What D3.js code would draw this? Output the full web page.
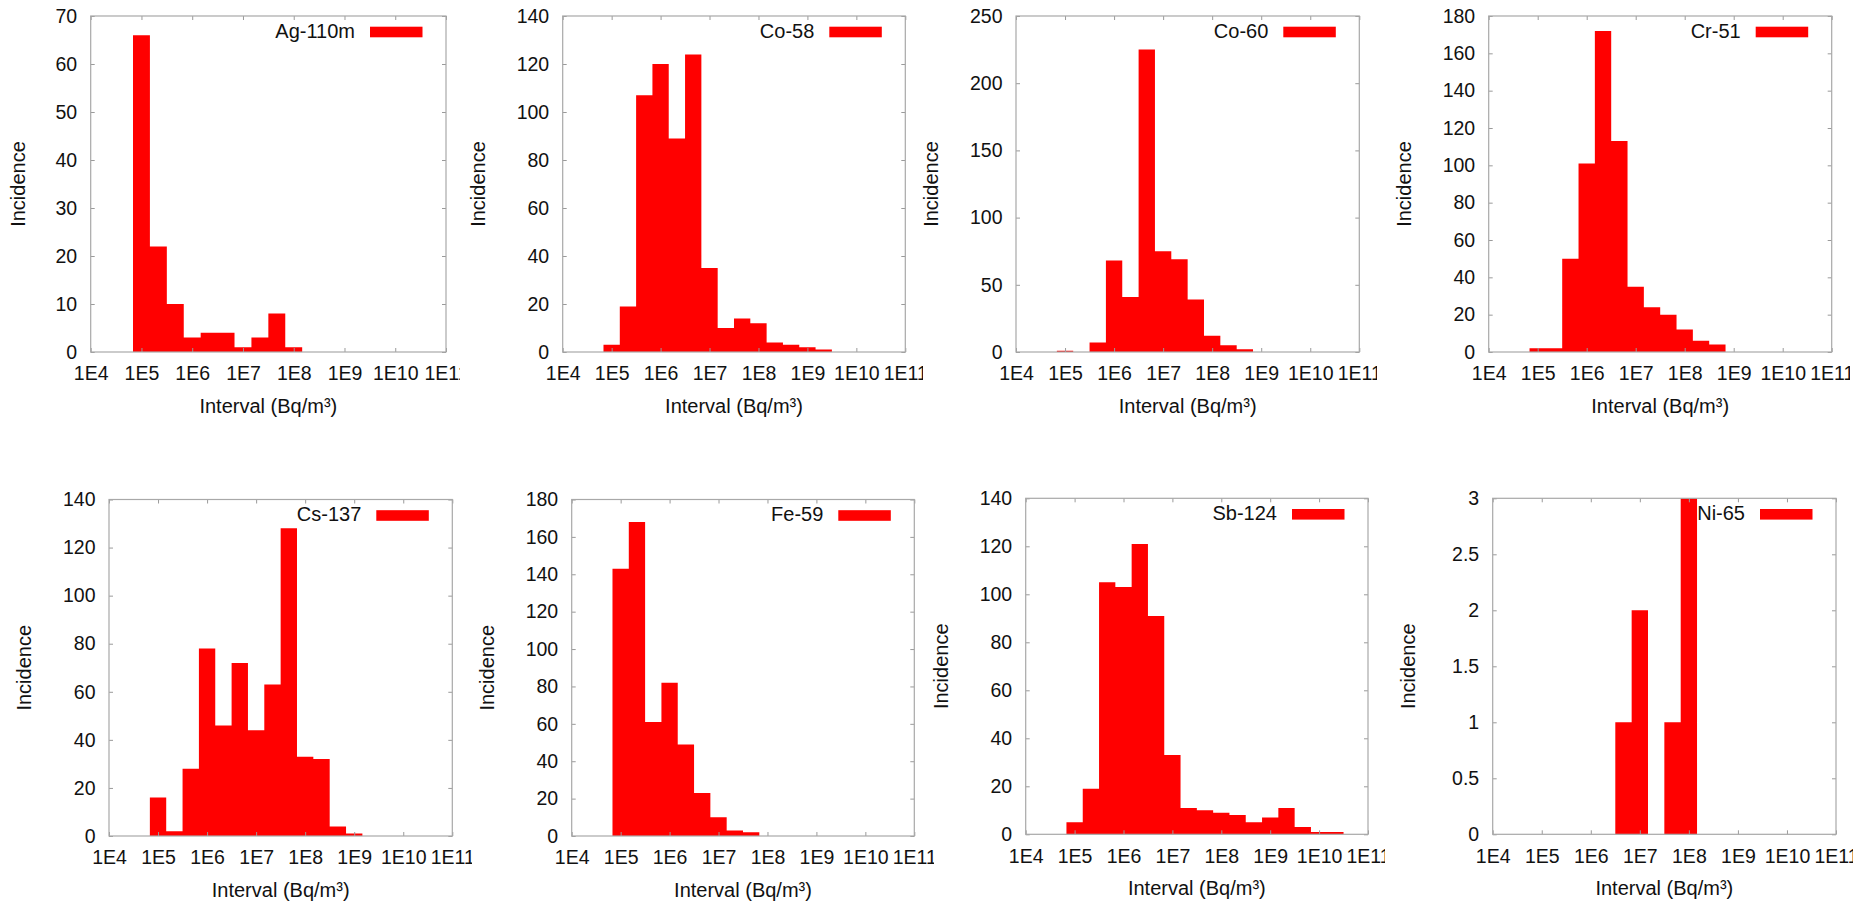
<!DOCTYPE html>
<html>
<head>
<meta charset="utf-8">
<script src="https://cdn.jsdelivr.net/npm/d3@7"></script>
<style>
  html, body { margin: 0; padding: 0; background: #fff; }
  svg { display: block; font-family: "Liberation Sans", Arial, sans-serif; }
  .tick text { fill: #111; }
  .tick line { stroke: #9a9a9a; }
</style>
</head>
<body>
<div id="chart"></div>
<script>
// bin centres (1/3 decade bins)
const binCenters = [1e5, 2.154e5, 4.642e5, 1e6, 2.154e6, 4.642e6, 1e7, 2.154e7, 4.642e7,
                    1e8, 2.154e8, 4.642e8, 1e9, 2.154e9, 4.642e9, 1e10, 2.154e10];

// incidence per bin, one array per nuclide
const ag110m = [66, 22, 10, 3, 4, 4, 1, 3, 8, 1, 0, 0, 0, 0, 0, 0, 0];
const co58   = [3, 19, 107, 120, 89, 124, 35, 10, 14, 12, 4, 3, 2, 1, 0, 0, 0];
const co60   = [1, 0, 7, 68, 41, 225, 75, 69, 39, 12, 5, 2, 0, 0, 0, 0, 0];
const cr51   = [2, 2, 50, 101, 172, 113, 35, 24, 20, 12, 6, 4, 0, 0, 0, 0, 0];
const cs137  = [16, 2, 28, 78, 46, 72, 44, 63, 128, 33, 32, 4, 1, 0, 0, 0, 0];
const fe59   = [143, 168, 61, 82, 49, 23, 10, 3, 2, 0, 0, 0, 0, 0, 0, 0, 0];
const sb124  = [5, 19, 105, 103, 121, 91, 33, 11, 10, 9, 8, 5, 7, 11, 3, 1, 1];
const ni65   = [0, 0, 0, 0, 0, 1, 2, 0, 1, 3, 0, 0, 0, 0, 0, 0, 0];

const nuclides = ["Ag-110m", "Co-58", "Co-60", "Cr-51", "Cs-137", "Fe-59", "Sb-124", "Ni-65"];
const counts = [ag110m, co58, co60, cr51, cs137, fe59, sb124, ni65];
const yMax = [70, 140, 250, 180, 140, 180, 140, 3];
const yStep = [10, 20, 50, 20, 20, 20, 20, 0.5];
const xTicks = [1e4, 1e5, 1e6, 1e7, 1e8, 1e9, 1e10, 1e11];

// plot frames (pixel layout)
const frames = [
  { left: 90.7,   right: 446,    top: 16,  bottom: 352, clip: 460,  yl: 72.7 },
  { left: 562.7,  right: 905.3,  top: 16,  bottom: 352, clip: 923,  yl: 84.7 },
  { left: 1016,   right: 1359.3, top: 16,  bottom: 352, clip: 1377, yl: 84.7 },
  { left: 1488.7, right: 1831.7, top: 16,  bottom: 352, clip: 1850, yl: 84.7 },
  { left: 109,    right: 452.3,  top: 499.5, bottom: 836, clip: 472,  yl: 84.7 },
  { left: 571.7,  right: 914.3,  top: 499.5, bottom: 836, clip: 934,  yl: 84.7 },
  { left: 1025.7, right: 1368,   top: 498.3, bottom: 834.3, clip: 1385, yl: 84.7 },
  { left: 1492.7, right: 1836,   top: 498.3, bottom: 834.3, clip: 1853, yl: 84.7 }
];

const W = 1868, H = 903;
const halfBin = Math.pow(10, 1 / 6);
const gray = "#a8a8a8";

const svg = d3.select("#chart").append("svg")
    .attr("width", W)
    .attr("height", H);

const defs = svg.append("defs");

nuclides.forEach((name, i) => {
    const f = frames[i];
    const x = d3.scaleLog().domain([1e4, 1e11]).range([f.left, f.right]);
    const y = d3.scaleLinear().domain([0, yMax[i]]).range([f.bottom, f.top]);

    defs.append("clipPath").attr("id", "clip" + i)
      .append("rect")
        .attr("x", f.left - 120).attr("y", f.top - 20)
        .attr("width", f.clip - f.left + 120)
        .attr("height", f.bottom - f.top + 120);

    const g = svg.append("g").attr("clip-path", `url(#clip${i})`);

    // histogram as one stepped area so neighbouring boxes don't show seams
    const steps = [];
    binCenters.forEach((c, j) => {
        const v = counts[i][j];
        steps.push({ x: c / halfBin, v: v });
        steps.push({ x: c * halfBin, v: v });
    });
    const area = d3.area()
        .x(d => x(d.x))
        .y0(y(0))
        .y1(d => y(d.v));
    g.append("path")
        .datum(steps)
        .attr("d", area)
        .attr("fill", "#ff0000");

    const yTicks = d3.range(0, yMax[i] + yStep[i] / 2, yStep[i]);

    // bottom axis with labels
    g.append("g")
        .attr("transform", `translate(0,${f.bottom})`)
        .call(d3.axisBottom(x).tickValues(xTicks)
            .tickFormat(d => "1E" + Math.round(Math.log10(d)))
            .tickSizeInner(-4).tickSizeOuter(0).tickPadding(14.5))
        .call(a => a.select(".domain").remove())
        .selectAll("text").style("font-size", "19.5px");

    // top mirror ticks
    g.append("g")
        .attr("transform", `translate(0,${f.top})`)
        .call(d3.axisTop(x).tickValues(xTicks).tickFormat("")
            .tickSizeInner(-4).tickSizeOuter(0))
        .call(a => a.select(".domain").remove());

    // left axis
    g.append("g")
        .attr("transform", `translate(${f.left},0)`)
        .call(d3.axisLeft(y).tickValues(yTicks)
            .tickFormat(d => d3.format("~g")(d))
            .tickSizeInner(-4).tickSizeOuter(0).tickPadding(13.5))
        .call(a => a.select(".domain").remove())
        .selectAll("text").style("font-size", "19.5px");

    // right mirror ticks
    g.append("g")
        .attr("transform", `translate(${f.right},0)`)
        .call(d3.axisRight(y).tickValues(yTicks).tickFormat("")
            .tickSizeInner(-4).tickSizeOuter(0))
        .call(a => a.select(".domain").remove());

    // frame
    g.append("rect")
        .attr("x", f.left).attr("y", f.top)
        .attr("width", f.right - f.left)
        .attr("height", f.bottom - f.top)
        .attr("fill", "none")
        .attr("stroke", gray)
        .attr("stroke-width", 1.2);

    // axis titles
    g.append("text")
        .attr("x", (f.left + f.right) / 2)
        .attr("y", f.bottom + 61)
        .attr("text-anchor", "middle")
        .style("font-size", "20px")
        .attr("fill", "#111")
        .text("Interval (Bq/m³)");

    g.append("text")
        .attr("transform", `translate(${f.left - f.yl + 7},${(f.top + f.bottom) / 2}) rotate(-90)`)
        .attr("text-anchor", "middle")
        .style("font-size", "20px")
        .attr("fill", "#111")
        .text("Incidence");

    // legend
    g.append("text")
        .attr("x", f.right - 91)
        .attr("y", f.top + 21.5)
        .attr("text-anchor", "end")
        .style("font-size", "20px")
        .attr("fill", "#111")
        .text(name);

    g.append("rect")
        .attr("x", f.right - 76)
        .attr("y", f.top + 10.7)
        .attr("width", 52.5)
        .attr("height", 10.6)
        .attr("fill", "#ff0000");
});
</script>
</body>
</html>
